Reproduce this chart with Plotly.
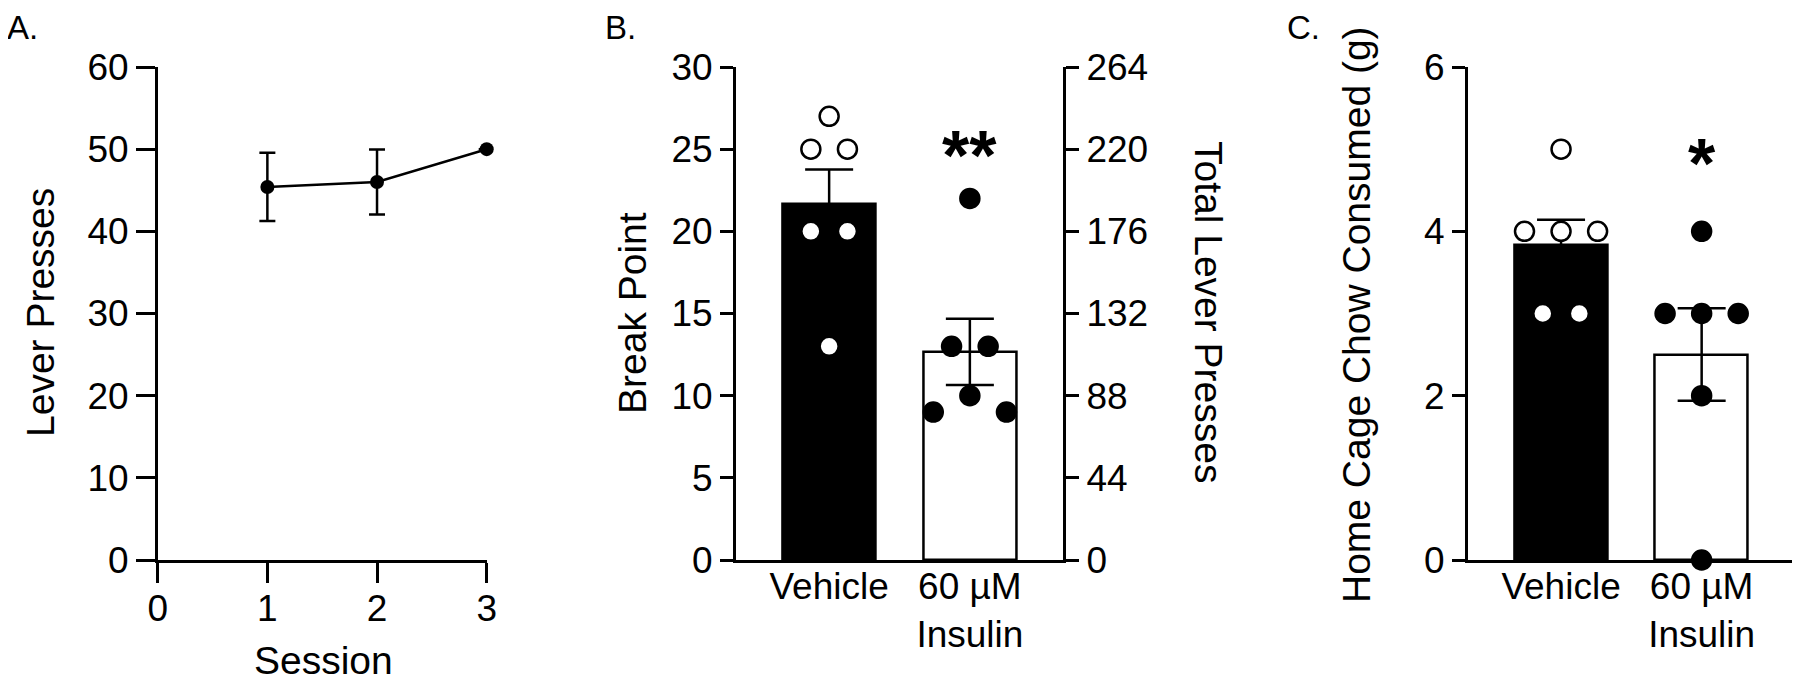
import math
import numpy as np
import plotly.graph_objects as go

# ---------------- data ----------------
sessions = [1, 2, 3]
session_ticks = [0, 1, 2, 3]
lever_mean = [45.4, 46.0, 50.0]
lever_sem = [4.15, 3.95, None]

groups = ["Vehicle", "60 µM<br>Insulin"]
group_x = [0, 1]
bp_vehicle = [27, 25, 25, 20, 20, 13]
bp_insulin = [22, 13, 13, 10, 9, 9]
chow_vehicle = [5, 4, 4, 4, 3, 3]
chow_insulin = [4, 3, 3, 3, 2, 0]

bp_ticks = [0, 5, 10, 15, 20, 25, 30]
tlp_ticks = [0, 44, 88, 132, 176, 220, 264]
chow_ticks = [0, 2, 4, 6]

# ---------------- layout constants ----------------
W, H = 1800, 685
OFF = 8  # page body margin offset
FONT = "Liberation Sans, Arial, Helvetica, sans-serif"
TOP, BOT = 67, 560
A_X = (157.7, 486.7)
B_X = (735.7, 1063.3)
C_X = (1467.7, 1795.0)
CAT_RANGE = [-0.664, 1.664]
LW = 2.5


def fx(p):
    return (p - OFF) / W


def fy(p):
    return 1 - (p - OFF) / H


def mean(v):
    return float(np.mean(v))


def sem(v):
    return float(np.std(v, ddof=1) / math.sqrt(len(v)))


def swarm(values, px_x, px_y, step=0.13, min_dist=26.0):
    """Symmetric column-scatter offsets computed from the values."""
    out = [0.0] * len(values)
    placed = []
    for v in sorted(set(values), reverse=True):
        idx = [i for i, val in enumerate(values) if val == v]
        k = len(idx)
        spread = 2
        while True:
            offs = [(j - (k - 1) / 2) * spread * step for j in range(k)]
            ok = all(
                math.hypot((o - po) * px_x, (v - pv) * px_y) >= min_dist
                for o in offs for (po, pv) in placed
            )
            if ok or spread > 12:
                break
            spread += 2
        for i, o in zip(idx, offs):
            out[i] = o
            placed.append((o, v))
    return out


px_x_cat = (B_X[1] - B_X[0]) / (CAT_RANGE[1] - CAT_RANGE[0])
px_y_bp = (BOT - TOP) / 30.0
px_y_chow = (BOT - TOP) / 6.0

fig = go.Figure()

# ---------------- Panel A ----------------
fig.add_trace(go.Scatter(
    x=sessions, y=lever_mean, mode="lines+markers",
    line=dict(color="black", width=LW),
    marker=dict(color="black", size=14),
    error_y=dict(type="data", array=lever_sem, color="black", thickness=LW, width=8),
    cliponaxis=False, xaxis="x", yaxis="y", showlegend=False,
))


def bar_panel(vals_v, vals_i, xa, ya, px_y):
    means = [mean(vals_v), mean(vals_i)]
    sems = [sem(vals_v), sem(vals_i)]
    fig.add_trace(go.Bar(
        x=group_x, y=means, width=0.661,
        marker=dict(color=["black", "white"], line=dict(color="black", width=LW)),
        error_y=dict(type="data", array=sems, color="black", thickness=LW, width=24),
        xaxis=xa, yaxis=ya, showlegend=False,
    ))
    ov = swarm(vals_v, px_x_cat, px_y)
    oi = swarm(vals_i, px_x_cat, px_y)
    fig.add_trace(go.Scatter(
        x=[group_x[0] + o for o in ov], y=vals_v, mode="markers",
        marker=dict(color="white", size=19, line=dict(color="black", width=LW)),
        cliponaxis=False, xaxis=xa, yaxis=ya, showlegend=False,
    ))
    fig.add_trace(go.Scatter(
        x=[group_x[1] + o for o in oi], y=vals_i, mode="markers",
        marker=dict(color="black", size=19, line=dict(color="black", width=LW)),
        cliponaxis=False, xaxis=xa, yaxis=ya, showlegend=False,
    ))


bar_panel(bp_vehicle, bp_insulin, "x2", "y2", px_y_bp)
# right axis helper trace (no visible marks)
fig.add_trace(go.Scatter(x=[None], y=[None], xaxis="x2", yaxis="y3", showlegend=False))
bar_panel(chow_vehicle, chow_insulin, "x3", "y4", px_y_chow)

axis_common = dict(
    showgrid=False, zeroline=False, showline=True, linecolor="black", linewidth=LW,
    ticks="outside", tickcolor="black", tickwidth=LW, color="black", automargin=False,
)
ydom = [fy(BOT), fy(TOP)]

fig.update_layout(
    template="none",
    width=W, height=H, margin=dict(l=0, r=0, t=0, b=0, pad=0), autosize=False,
    paper_bgcolor="white", plot_bgcolor="white",
    font=dict(family=FONT, color="black"),
    showlegend=False, bargap=0,
    xaxis=dict(axis_common, domain=[fx(A_X[0]), fx(A_X[1])], range=[0, 3],
               tickvals=session_ticks, ticklen=20, tickfont=dict(size=37), anchor="y",
               ticklabelstandoff=-6),
    yaxis=dict(axis_common, domain=ydom, range=[0, 60], dtick=10, ticklen=19,
               tickfont=dict(size=37), anchor="x"),
    xaxis2=dict(axis_common, domain=[fx(B_X[0]), fx(B_X[1])], range=CAT_RANGE,
                tickvals=group_x, ticktext=groups, ticks="", tickfont=dict(size=37), anchor="y2",
                ticklabelstandoff=-8),
    yaxis2=dict(axis_common, domain=ydom, range=[0, 30], tickvals=bp_ticks, ticklen=13,
                tickfont=dict(size=37), anchor="x2"),
    yaxis3=dict(axis_common, domain=ydom, range=[0, 264], tickvals=tlp_ticks, ticklen=13,
                tickfont=dict(size=37), anchor="x2", overlaying="y2", side="right"),
    xaxis3=dict(axis_common, domain=[fx(C_X[0]), fx(C_X[1])], range=CAT_RANGE,
                tickvals=group_x, ticktext=groups, ticks="", tickfont=dict(size=37), anchor="y4",
                ticklabelstandoff=-8),
    yaxis4=dict(axis_common, domain=ydom, range=[0, 6], tickvals=chow_ticks, ticklen=13,
                tickfont=dict(size=37), anchor="x3"),
)

ann = []


def text(x, y, s, size, angle=0, xanchor="center", yanchor="middle"):
    ann.append(dict(x=fx(x), y=fy(y), xref="paper", yref="paper", text=s, showarrow=False,
                    textangle=angle, xanchor=xanchor, yanchor=yanchor,
                    font=dict(size=size, family=FONT, color="black")))


text(5, 28, "A.", 33, xanchor="left")
text(603, 28, "B.", 33, xanchor="left")
text(1285, 28, "C.", 33, xanchor="left")
text(40, 313, "Lever Presses", 39, angle=-90)
text(323, 660, "Session", 39)
text(632, 313, "Break Point", 39, angle=-90)
text(1209, 312, "Total Lever Presses", 39, angle=90)
text(1356, 315, "Home Cage Chow Consumed (g)", 39, angle=-90)

ann.append(dict(x=1, y=24.6, xref="x2", yref="y2", text="<b>**</b>", showarrow=False,
                font=dict(size=70, family=FONT, color="black")))
ann.append(dict(x=1, y=4.82, xref="x3", yref="y4", text="<b>*</b>", showarrow=False,
                font=dict(size=70, family=FONT, color="black")))
fig.update_layout(annotations=ann)

fig.write_html("out.html")
